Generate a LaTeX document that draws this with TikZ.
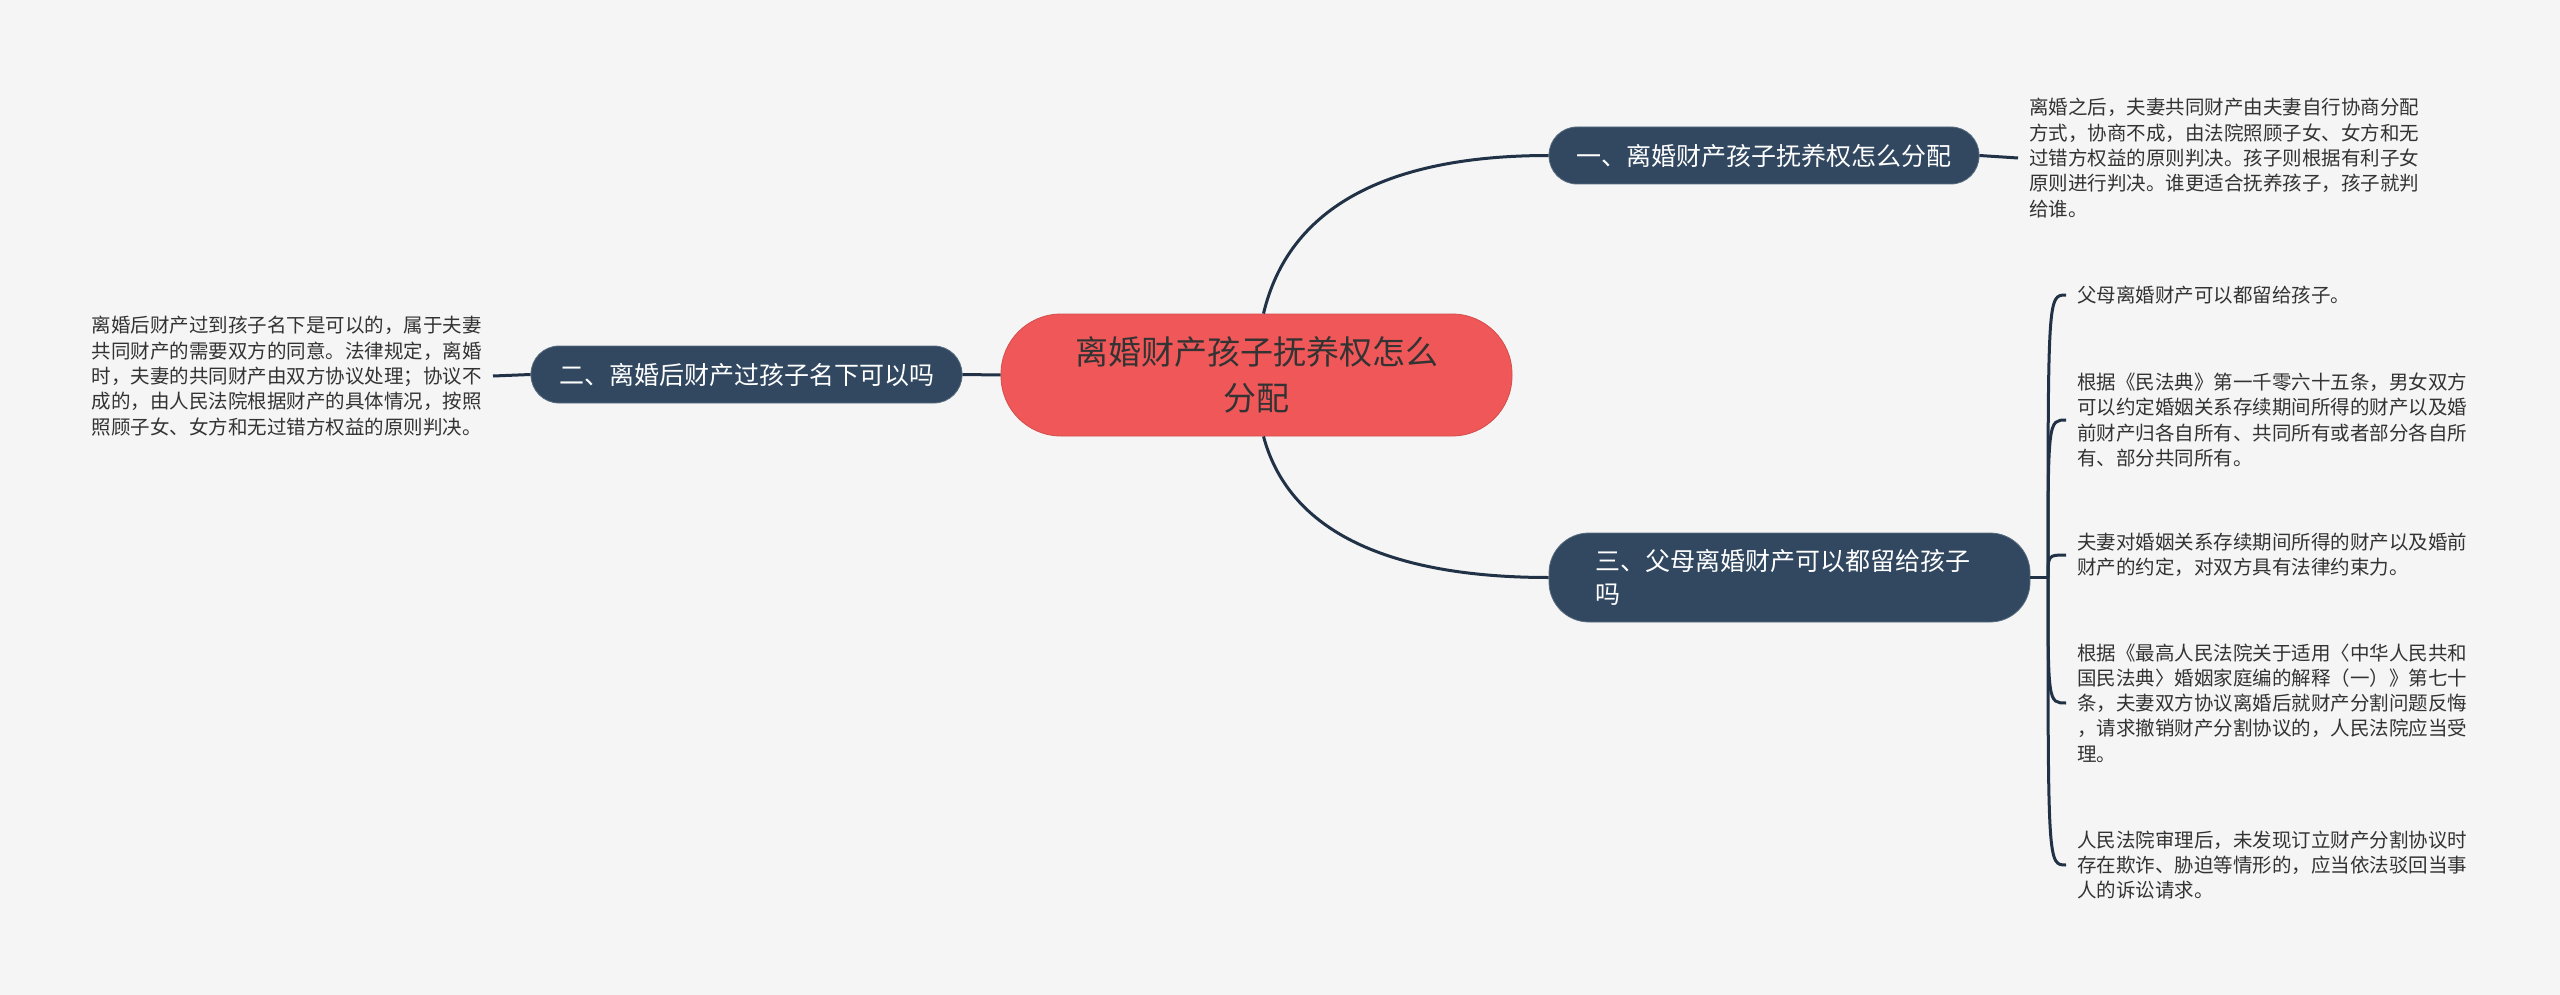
\documentclass[tikz,border=0pt]{standalone}
\usepackage{fontspec}
\setmainfont{Noto Sans CJK SC}
\usetikzlibrary{calc}
\definecolor{bg}{RGB}{245,245,245}
\definecolor{navy}{RGB}{49,72,96}
\definecolor{linec}{RGB}{33,50,71}
\definecolor{rootred}{RGB}{240,87,88}
\definecolor{txt}{RGB}{51,51,51}
\begin{document}
\begin{tikzpicture}[x=1pt,y=-1pt,
  conn/.style={draw=linec, line width=3pt},
  rootbox/.style={fill=rootred, draw=rootred!88!black, line width=0.8pt, rounded corners=60pt,
    minimum width=511pt, minimum height=122pt, text=txt, font=\fontsize{33}{46}\selectfont,
    align=center, inner sep=0pt},
  branchbox/.style={fill=navy, draw=navy!80!white, line width=0.8pt, text=white,
    font=\fontsize{25}{33}\selectfont, inner sep=0pt},
  leaftext/.style={text=txt, font=\fontsize{19.5}{25.3}\selectfont, align=left,
    inner xsep=11pt, inner ysep=0pt}
]
\fill[bg] (0,0) rectangle (2560,995);
\useasboundingbox (0,0) rectangle (2560,995);

% nodes
\node[rootbox] (root) at (1256.5,375) {离婚财产孩子抚养权怎么\\分配};
\node[branchbox, rounded corners=28pt, minimum width=430pt, minimum height=57pt] (n1) at (1764,155.5)
  {一、离婚财产孩子抚养权怎么分配};
\node[branchbox, rounded corners=28pt, minimum width=431pt, minimum height=57pt] (n2) at (746.5,374.5)
  {二、离婚后财产过孩子名下可以吗};
\node[branchbox, rounded corners=40pt, text width=389pt, inner xsep=46pt, minimum height=89pt, align=left] (n3) at (1789.5,577.5)
  {三、父母离婚财产可以都留给孩子\\吗};

% leaf texts
\node[leaftext, anchor=west] (t1) at (2018,158)
  {离婚之后，夫妻共同财产由夫妻自行协商分配\\方式，协商不成，由法院照顾子女、女方和无\\过错方权益的原则判决。孩子则根据有利子女\\原则进行判决。谁更适合抚养孩子，孩子就判\\给谁。};
\node[leaftext, anchor=east] (t2) at (493,376)
  {离婚后财产过到孩子名下是可以的，属于夫妻\\共同财产的需要双方的同意。法律规定，离婚\\时，夫妻的共同财产由双方协议处理；协议不\\成的，由人民法院根据财产的具体情况，按照\\照顾子女、女方和无过错方权益的原则判决。};
\node[leaftext, anchor=west] (la) at (2066,295)
  {父母离婚财产可以都留给孩子。};
\node[leaftext, anchor=west] (lb) at (2066,420)
  {根据《民法典》第一千零六十五条，男女双方\\可以约定婚姻关系存续期间所得的财产以及婚\\前财产归各自所有、共同所有或者部分各自所\\有、部分共同所有。};
\node[leaftext, anchor=west] (lc) at (2066,555)
  {夫妻对婚姻关系存续期间所得的财产以及婚前\\财产的约定，对双方具有法律约束力。};
\node[leaftext, anchor=west] (ld) at (2066,703)
  {根据《最高人民法院关于适用〈中华人民共和\\国民法典〉婚姻家庭编的解释（一）》第七十\\条，夫妻双方协议离婚后就财产分割问题反悔\\，请求撤销财产分割协议的，人民法院应当受\\理。};
\node[leaftext, anchor=west] (le) at (2066,865)
  {人民法院审理后，未发现订立财产分割协议时\\存在欺诈、胁迫等情形的，应当依法驳回当事\\人的诉讼请求。};

% connectors
\draw[conn] ([xshift=7pt]root.north) .. controls +(27,-114) and ($(n1.west)+(-149,0)$) .. (n1.west);
\draw[conn] ([xshift=7pt]root.south) .. controls +(27,101) and ($(n3.west)+(-149,0)$) .. (n3.west);
\draw[conn] (root.west) -- (n2.east);
\draw[conn] (n1.east) -- (t1.west);
\draw[conn] (n2.west) -- (t2.east);
\coordinate (stem) at (2048,577.5);
\draw[conn] (n3.east) -- (stem);
\foreach \l in {la,lb,lc,ld,le}{
  \draw[conn] (stem) .. controls (stem |- \l.west) .. (\l.west);
}
\end{tikzpicture}
\end{document}
